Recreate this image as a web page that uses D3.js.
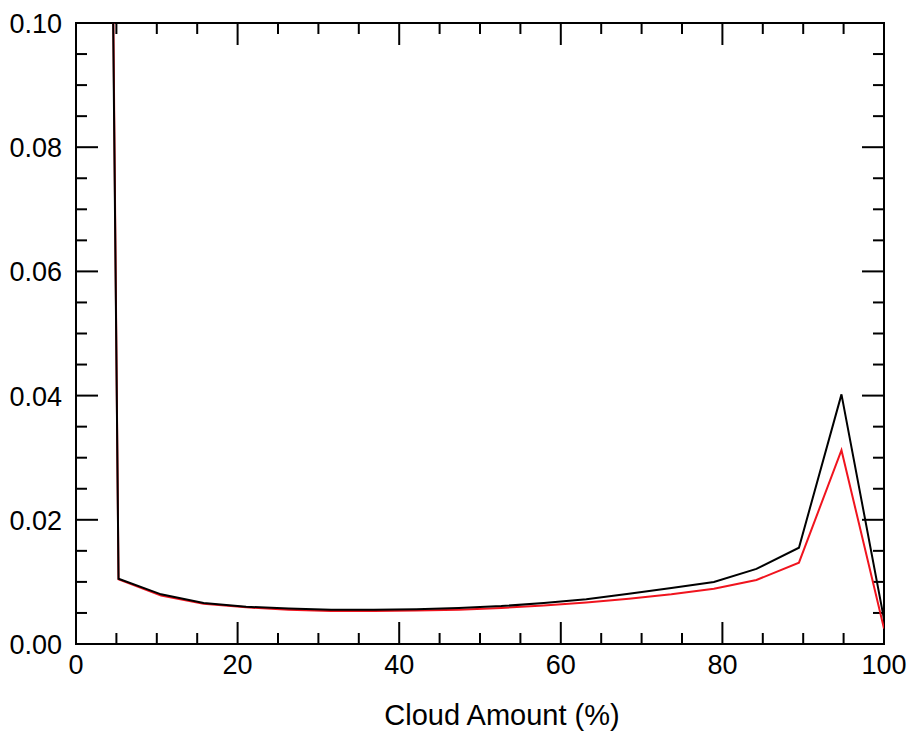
<!DOCTYPE html>
<html>
<head>
<meta charset="utf-8">
<script src="https://cdn.jsdelivr.net/npm/d3@7"></script>
<style>
  body { margin: 0; background: #fff; }
  text { font-family: "Liberation Sans", Arial, Helvetica, sans-serif; fill: #000; }
</style>
</head>
<body>
<script>
// cloud amount bins (20 points, 0..100 %)
var cloudAmount = d3.range(20).map(function (i) { return i * 100 / 19; });

// frequency, black series
var blackValues = [0.72, 0.0105, 0.0080, 0.0066, 0.0060, 0.0057, 0.0055, 0.0055,
                   0.0056, 0.0058, 0.0061, 0.0066, 0.0072, 0.0081, 0.0090, 0.0100,
                   0.0121, 0.0155, 0.0402, 0.0040];

// frequency, red series
var redValues = [0.75, 0.0104, 0.0078, 0.0065, 0.0059, 0.0055, 0.0053, 0.0053,
                 0.0054, 0.0055, 0.0058, 0.0062, 0.0067, 0.0073, 0.0080, 0.0089,
                 0.0103, 0.0131, 0.0312, 0.0025];

var xTicks = [0, 20, 40, 60, 80, 100];
var yTicks = [0, 0.02, 0.04, 0.06, 0.08, 0.10];
var xMinor = d3.range(0, 101, 5);
var yMinor = d3.range(0, 0.1001, 0.005);

var width = 910, height = 732;
var plotL = 76, plotR = 884, plotT = 23, plotB = 644;
var major = 22, minor = 11;
var fontSize = "27px";

var svg = d3.select("body").append("svg")
    .attr("width", width)
    .attr("height", height);

var x = d3.scaleLinear().domain([0, 100]).range([plotL, plotR]);
var y = d3.scaleLinear().domain([0, 0.10]).range([plotB, plotT]);

svg.append("clipPath")
    .attr("id", "plot")
  .append("rect")
    .attr("x", plotL)
    .attr("y", plotT)
    .attr("width", plotR - plotL)
    .attr("height", plotB - plotT);

// tick marks on all four sides, major ones longer
function isMajor(list, v) {
  return list.some(function (t) { return Math.abs(t - v) < 1e-9; });
}

var ticks = svg.append("g")
    .attr("stroke", "#000")
    .attr("stroke-width", 2);

ticks.selectAll("line.xb")
    .data(xMinor)
  .enter().append("line")
    .attr("x1", function (d) { return x(d); })
    .attr("x2", function (d) { return x(d); })
    .attr("y1", plotB)
    .attr("y2", function (d) { return plotB - (isMajor(xTicks, d) ? major : minor); });

ticks.selectAll("line.xt")
    .data(xMinor)
  .enter().append("line")
    .attr("x1", function (d) { return x(d); })
    .attr("x2", function (d) { return x(d); })
    .attr("y1", plotT)
    .attr("y2", function (d) { return plotT + (isMajor(xTicks, d) ? major : minor); });

ticks.selectAll("line.yl")
    .data(yMinor)
  .enter().append("line")
    .attr("y1", function (d) { return y(d); })
    .attr("y2", function (d) { return y(d); })
    .attr("x1", plotL)
    .attr("x2", function (d) { return plotL + (isMajor(yTicks, d) ? major : minor); });

ticks.selectAll("line.yr")
    .data(yMinor)
  .enter().append("line")
    .attr("y1", function (d) { return y(d); })
    .attr("y2", function (d) { return y(d); })
    .attr("x1", plotR)
    .attr("x2", function (d) { return plotR - (isMajor(yTicks, d) ? major : minor); });

// frame
svg.append("rect")
    .attr("x", plotL)
    .attr("y", plotT)
    .attr("width", plotR - plotL)
    .attr("height", plotB - plotT)
    .attr("fill", "none")
    .attr("stroke", "#000")
    .attr("stroke-width", 2);

// tick labels
svg.selectAll("text.xl")
    .data(xTicks)
  .enter().append("text")
    .attr("x", function (d) { return x(d); })
    .attr("y", 674)
    .attr("text-anchor", "middle")
    .style("font-size", fontSize)
    .text(function (d) { return d; });

svg.selectAll("text.yl")
    .data(yTicks)
  .enter().append("text")
    .attr("x", 62)
    .attr("y", function (d) { return y(d) + 10; })
    .attr("text-anchor", "end")
    .style("font-size", fontSize)
    .text(function (d) { return d3.format(".2f")(d); });

svg.append("text")
    .attr("x", 502)
    .attr("y", 725)
    .attr("text-anchor", "middle")
    .style("font-size", "29px")
    .text("Cloud Amount (%)");

// series
var line = d3.line()
    .x(function (d) { return x(d[0]); })
    .y(function (d) { return y(d[1]); });

var lines = svg.append("g")
    .attr("clip-path", "url(#plot)")
    .attr("fill", "none")
    .attr("stroke-width", 2)
    .attr("stroke-linejoin", "miter");

lines.append("path")
    .datum(d3.zip(cloudAmount, redValues))
    .attr("stroke", "#f0141e")
    .attr("d", line);

lines.append("path")
    .datum(d3.zip(cloudAmount, blackValues))
    .attr("stroke", "#000")
    .attr("d", line);
</script>
</body>
</html>
